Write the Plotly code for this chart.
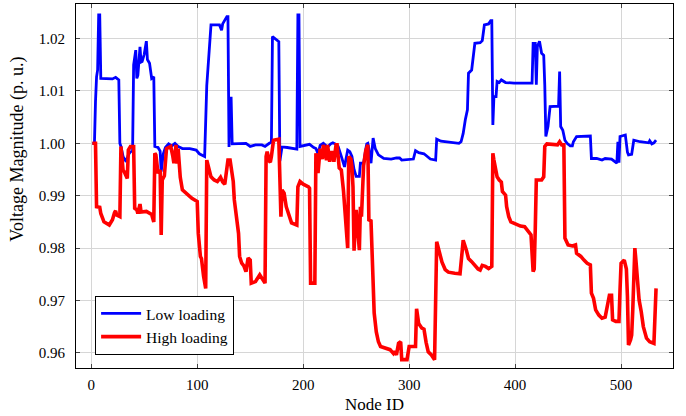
import plotly.graph_objects as go

low_nodes = [1, 3, 4, 5, 6, 7, 8, 9, 20, 23, 26, 27, 28, 30, 33, 35, 37, 39, 40, 42, 43, 44, 46, 47, 48, 50, 52, 53, 55, 57, 59,
             60, 63, 65, 66, 68, 70, 73, 76, 79, 82, 86, 93, 99, 102, 107, 109, 110, 113, 121, 123, 124, 126, 128, 129,
             130, 131, 132, 133, 146, 150, 155, 161, 164, 168, 170, 171, 173, 175, 177, 178, 180, 185, 190, 194, 195, 196,
             197, 203, 206, 210, 212, 214, 216, 219, 223, 226, 228, 231, 233, 236, 239, 242, 244, 246, 248, 250, 253, 254,
             257, 259, 260, 261, 262, 264, 266, 268, 271, 276, 283, 288, 291, 293, 300, 304, 306, 309, 314, 320, 325, 326,
             330, 340, 347, 349, 351, 353, 355, 356, 359, 362, 367, 369, 371, 375, 377, 378, 379, 380, 382, 383, 385, 387,
             391, 399, 416, 417, 419, 420, 421, 423, 425, 427, 428, 429, 431, 433, 441, 442, 443, 445, 447, 449, 452, 454,
             455, 458, 471, 472, 477, 482, 485, 491, 494, 496, 497, 498, 499, 504, 506, 507, 510, 512, 518, 526, 527, 529,
             531, 533]
low_values = [1.0000, 1.0000, 1.0080, 1.0127, 1.0140, 1.0245, 1.0245, 1.0124, 1.0123, 1.0126, 1.0121, 1.0000, 0.9994,
              0.9975, 0.9965, 0.9978, 0.9984, 0.9985, 1.0150, 1.0178, 1.0124, 1.0130, 1.0184, 1.0155, 1.0156, 1.0170,
              1.0195, 1.0160, 1.0153, 1.0124, 1.0127,
              0.9994, 0.9992, 0.9985, 0.9946, 0.9980, 0.9992, 0.9999, 0.9995, 1.0000, 0.9994, 0.9990, 0.9990, 0.9987,
              0.9980, 0.9975, 1.0110, 1.0143, 1.0226, 1.0226, 1.0216, 1.0228, 1.0235, 1.0242, 1.0242,
              0.9993, 1.0086, 1.0086, 0.9999, 1.0000, 0.9994, 0.9997, 0.9997, 0.9994, 1.0000, 1.0002, 1.0204, 1.0200,
              1.0197, 1.0194, 0.9966, 0.9993, 0.9992, 0.9990, 0.9989, 1.0245, 1.0245,
              0.9994, 0.9996, 0.9998, 0.9992, 0.9990, 0.9980, 0.9996, 1.0000, 0.9993, 0.9999, 1.0001, 0.9998, 0.9994,
              0.9975, 0.9955, 0.9987, 0.9984, 0.9975, 0.9950, 0.9937, 0.9937, 0.9962,
              0.9962, 0.9988, 0.9999, 1.0000, 0.9990, 0.9962, 1.0010, 0.9990, 0.9978, 0.9971, 0.9970, 0.9972, 0.9972,
              0.9968, 0.9970, 0.9970, 0.9986, 0.9982, 0.9980, 0.9970, 0.9968, 1.0008,
              1.0004, 1.0001, 1.0000, 1.0003, 1.0019, 1.0045, 1.0064, 1.0134, 1.0140, 1.0191, 1.0192, 1.0196, 1.0226,
              1.0228, 1.0234, 1.0234, 1.0035, 1.0089, 1.0089, 1.0118, 1.0116, 1.0121,
              1.0116, 1.0115, 1.0115, 1.0191, 1.0191, 1.0112, 1.0185, 1.0195, 1.0172, 1.0168, 1.0111, 1.0013, 1.0032,
              1.0070, 1.0071, 1.0137, 1.0032, 1.0025, 1.0006, 1.0000, 0.9995, 0.9995,
              1.0003, 1.0013, 1.0014, 0.9971, 0.9971, 0.9968, 0.9971, 0.9970, 0.9965, 0.9962, 1.0003, 0.9963, 1.0013,
              1.0016, 0.9983, 0.9978, 0.9979, 1.0006, 1.0003, 1.0001, 1.0005, 0.9999,
              1.0001, 1.0006]

high_nodes = [1, 4, 5, 8, 9, 12, 17, 20, 22, 23, 24, 27, 28, 30, 31, 34, 35, 37, 40, 41, 43, 44, 46, 47, 52, 55, 57, 59,
              60, 61, 63, 65, 66, 67, 69, 71, 75, 77, 78, 80, 81, 82, 84, 86, 89, 95, 100, 101, 103, 104, 106, 108,
              109, 111, 113, 116, 119, 122, 124, 126, 129, 131, 133, 134, 135, 137, 139, 140, 142, 144, 146, 148, 150,
              151, 155, 159, 161, 164, 165, 166, 168, 169, 170, 172, 177, 178, 179, 180, 182, 184, 187, 189, 194, 195,
              197, 200, 205, 206, 207, 211, 212, 214, 216, 218, 219, 222, 223, 225, 227, 229, 231, 232, 234, 236, 238,
              240, 242, 243, 245, 246, 247, 248, 250, 251, 253, 254, 255, 257, 259, 261, 262, 264, 266, 267, 269, 271,
              273, 276, 279, 282, 285, 286, 288, 290, 292, 293, 298, 300, 303, 306, 307, 309, 312, 314, 316, 318, 321,
              324, 326, 329, 331, 334, 337, 343, 348, 350, 351, 354, 356, 359, 362, 365, 367, 369, 372, 375, 378, 379,
              380, 381, 383, 385, 387, 388, 391, 392, 394, 396, 399, 402, 405, 409, 411, 413, 415, 417, 418, 419, 420,
              425, 427, 428, 430, 440, 442, 444, 446, 447, 450, 454, 457, 458, 462, 465, 468, 471, 472, 474, 476, 479,
              482, 485, 487, 489, 491, 492, 495, 498, 499, 500, 503, 505, 506, 507, 509, 510, 511, 513, 514, 517, 519,
              521, 524, 527, 531, 533]
high_values = [1.0000, 1.0000, 0.9879, 0.9878, 0.9866, 0.9850, 0.9844, 0.9854, 0.9868, 0.9871, 0.9863, 0.9860, 0.9994,
               0.9949, 0.9946, 0.9933, 0.9987, 0.9994, 0.9994, 0.9876, 0.9873, 0.9866, 0.9884, 0.9869, 0.9870, 0.9867,
               0.9864, 0.9850,
               0.9981, 0.9978, 0.9943, 0.9949, 0.9825, 0.9930, 0.9938, 0.9990, 0.9994, 0.9975, 0.9962, 0.9997, 0.9961,
               0.9990, 0.9935, 0.9911, 0.9905, 0.9895, 0.9889, 0.9828, 0.9784, 0.9780, 0.9746, 0.9723,
               0.9968, 0.9952, 0.9936, 0.9930, 0.9927, 0.9935, 0.9926, 0.9922, 0.9968, 0.9968, 0.9945, 0.9927, 0.9892,
               0.9860, 0.9828, 0.9784, 0.9771, 0.9766, 0.9755, 0.9781, 0.9777,
               0.9733, 0.9736, 0.9749, 0.9742, 0.9733, 0.9975, 0.9984, 0.9966, 0.9964, 0.9975, 1.0006, 1.0008, 0.9927,
               0.9860, 0.9911, 0.9905, 0.9879, 0.9857, 0.9848, 0.9844, 0.9917,
               0.9927, 0.9922, 0.9917, 0.9914, 0.9733, 0.9733, 0.9981, 0.9943, 0.9990, 0.9970, 0.9997, 0.9968, 0.9997,
               0.9965, 0.9985, 0.9965, 0.9997, 0.9997, 0.9953, 0.9949, 0.9910,
               0.9847, 0.9800, 0.9975, 0.9970, 0.9955, 0.9917, 0.9795, 0.9873, 0.9850, 0.9796, 0.9879, 0.9860, 0.9957,
               0.9986, 0.9997, 0.9854, 0.9852, 0.9758, 0.9676, 0.9640, 0.9621,
               0.9612, 0.9610, 0.9607, 0.9606, 0.9599, 0.9603, 0.9596, 0.9618, 0.9621, 0.9587, 0.9587, 0.9612, 0.9612,
               0.9612, 0.9684, 0.9656, 0.9647, 0.9645, 0.9620, 0.9602, 0.9596,
               0.9587, 0.9812, 0.9790, 0.9773, 0.9759, 0.9754, 0.9752, 0.9751, 0.9793, 0.9815, 0.9796, 0.9780, 0.9774,
               0.9766, 0.9760, 0.9758, 0.9767, 0.9765, 0.9761, 0.9765, 0.9981,
               0.9968, 0.9958, 0.9936, 0.9930, 0.9926, 0.9908, 0.9901, 0.9879, 0.9860, 0.9850, 0.9847, 0.9844, 0.9842,
               0.9841, 0.9835, 0.9831, 0.9825, 0.9755, 0.9760, 0.9835, 0.9930,
               0.9930, 0.9936, 0.9994, 0.9999, 0.9997, 1.0003, 0.9997, 0.9997, 0.9819, 0.9806, 0.9804, 0.9806, 0.9790,
               0.9784, 0.9777, 0.9771, 0.9768, 0.9714, 0.9704, 0.9682, 0.9672,
               0.9666, 0.9668, 0.9688, 0.9710, 0.9710, 0.9663, 0.9660, 0.9660, 0.9720, 0.9771, 0.9777, 0.9760, 0.9707,
               0.9615, 0.9625, 0.9634, 0.9680, 0.9800, 0.9777, 0.9701, 0.9679,
               0.9650, 0.9628, 0.9621, 0.9618, 0.9723]

x_ticks = [0, 100, 200, 300, 400, 500]
y_ticks = [0.96, 0.97, 0.98, 0.99, 1.00, 1.01, 1.02]
x_title = "Node ID"
y_title = "Voltage Magnitude (p. u.)"

FONT = "Liberation Serif"

fig = go.Figure()
fig.add_trace(go.Scatter(x=low_nodes, y=low_values, mode="lines", name="Low loading",
                         line=dict(color="#0000ff", width=2.8)))
fig.add_trace(go.Scatter(x=high_nodes, y=high_values, mode="lines", name="High loading",
                         line=dict(color="#ff0000", width=3.6)))

axis_common = dict(showline=True, linecolor="black", linewidth=1, mirror="ticks",
                   ticks="inside", ticklen=4, tickcolor="#444", tickwidth=1,
                   showgrid=True, gridcolor="#d6d6d6", gridwidth=1, zeroline=False,
                   automargin=False,
                   tickfont=dict(family=FONT, size=15, color="black"))

fig.update_layout(
    width=686, height=416,
    margin=dict(l=76, r=13, t=4, b=48, autoexpand=False),
    paper_bgcolor="white", plot_bgcolor="white",
    font=dict(family=FONT, color="black"),
    xaxis=dict(range=[-14.4, 549], tickvals=x_ticks, ticktext=[str(v) for v in x_ticks],
               ticklabelstandoff=3, **axis_common),
    yaxis=dict(range=[0.9571, 1.0266], tickvals=y_ticks, ticktext=[f"{v:.2f}" for v in y_ticks],
               ticklabelstandoff=7, **axis_common),
    legend=dict(x=0.032, y=0.036, xanchor="left", yanchor="bottom",
                bgcolor="white", bordercolor="black", borderwidth=1,
                font=dict(family=FONT, size=15.5), tracegroupgap=0, itemwidth=40),
    showlegend=True,
    annotations=[
        dict(text=x_title, xref="paper", yref="paper", x=0.5, y=-0.099, yanchor="middle",
             showarrow=False, font=dict(family=FONT, size=17)),
        dict(text=y_title, xref="paper", yref="paper", x=-0.097, y=0.6, xanchor="center",
             yanchor="middle", textangle=-90, showarrow=False, font=dict(family=FONT, size=18)),
    ],
)

fig.write_html("out.html", config={"displayModeBar": False},
               post_script="document.body.style.margin='0px';document.body.style.padding='0px';")
